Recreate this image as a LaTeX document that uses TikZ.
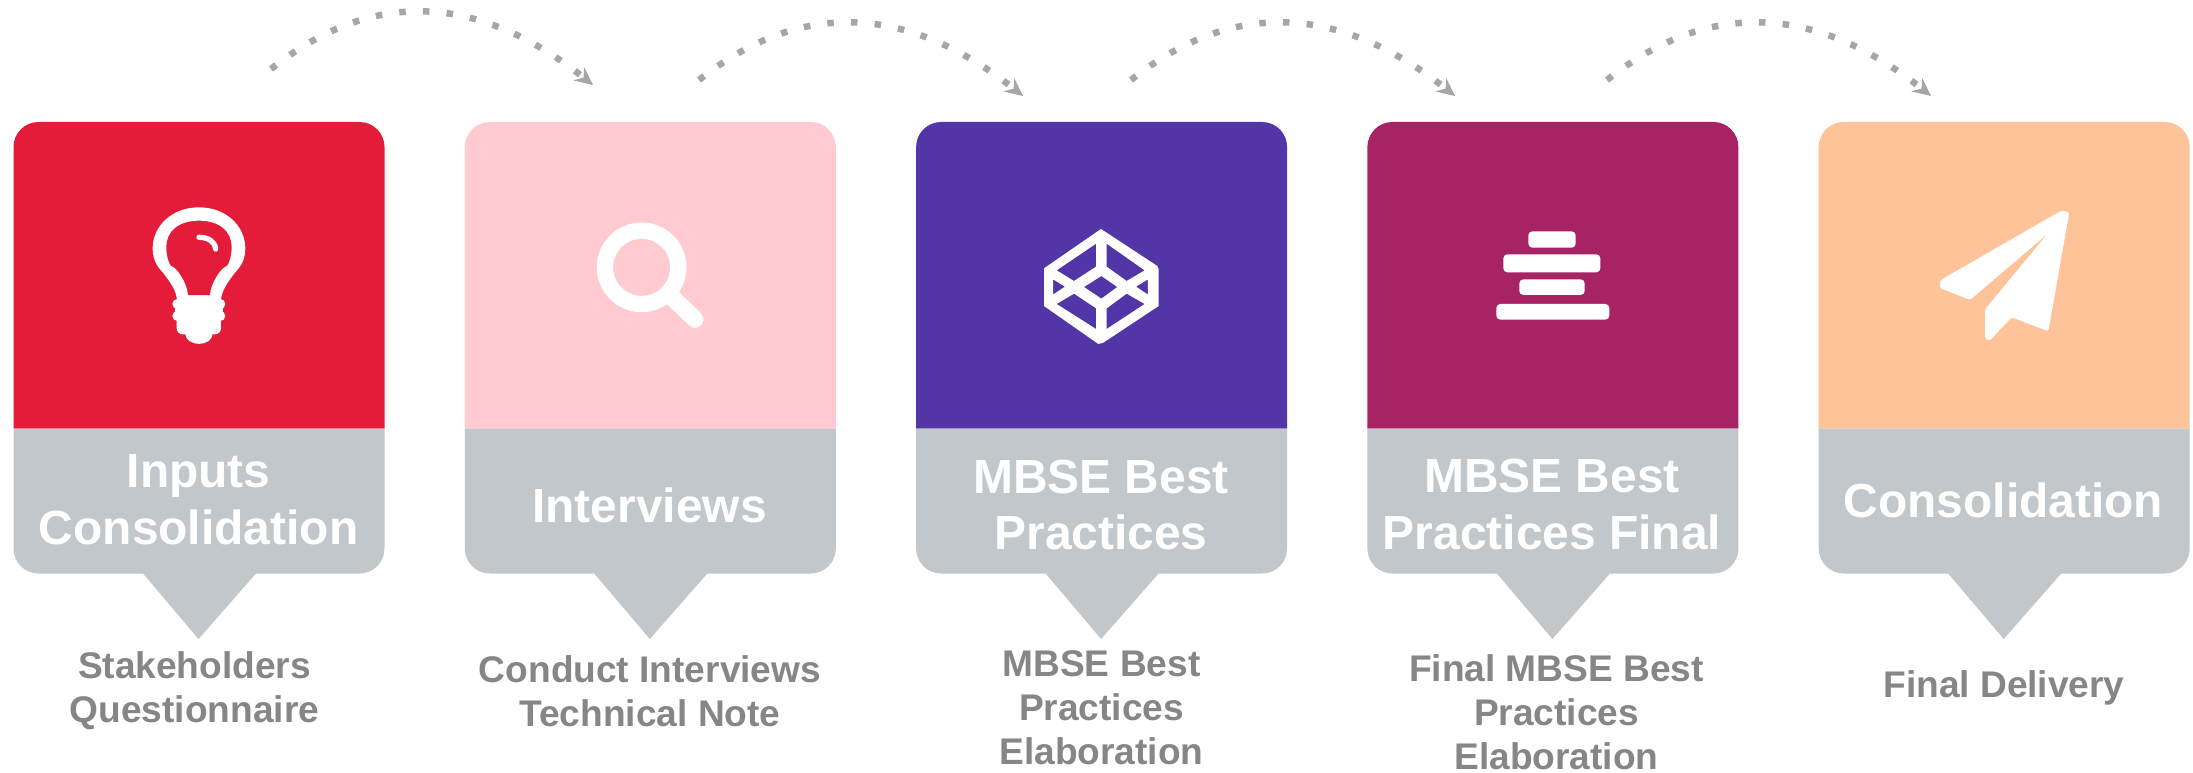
\documentclass[tikz,border=0pt]{standalone}
\usepackage{fontspec}
\setmainfont{Liberation Sans}
\usetikzlibrary{arrows.meta}
\definecolor{cRed}{HTML}{E51B3A}
\definecolor{cPink}{HTML}{FFCBD1}
\definecolor{cPurple}{HTML}{5235A6}
\definecolor{cMagenta}{HTML}{A72363}
\definecolor{cPeach}{HTML}{FEC398}
\definecolor{cGrey}{HTML}{C2C7CB}
\definecolor{cText}{HTML}{868686}
\definecolor{cDots}{HTML}{A6A6A6}
\tikzset{
  title/.style={text=white,font=\fontsize{47.9}{56.5}\selectfont\bfseries,align=center,inner sep=0pt},
  sub/.style={text=cText,font=\fontsize{37.1}{44}\selectfont\bfseries,align=center,inner sep=0pt},
  hop/.style={draw=cDots,line width=6.5pt,dash pattern=on 6.5pt off 17.2pt,
    -{Stealth[length=18pt,width=17pt,inset=6pt]}},
  icon/.style={fill=white,draw=none},
  zoomed/.style={x=0.3333pt,y=-0.3333pt}
}
\newcommand{\cardbox}[2]{%
  \fill[#2] (#1,428.5) [rounded corners=25pt] -- ++(0,-306.5) -- ++(371,0) [sharp corners] -- ++(0,306.5) -- cycle;
  \fill[cGrey] (#1,428.5) -- ++(371,0) [rounded corners=25pt] -- ++(0,145) [sharp corners]
    -- ++(-128.5,0) -- ++(-57.5,65.5) -- ++(-55.5,-65.5) [rounded corners=25pt] -- ++(-129.5,0) [sharp corners] -- cycle;
}
\begin{document}
\begin{tikzpicture}[x=1pt,y=-1pt]
\useasboundingbox (0,0) rectangle (2193,773);
\fill[white] (0,0) rectangle (2193,773);

\cardbox{13.5}{cRed}
\cardbox{464.8}{cPink}
\cardbox{916.1}{cPurple}
\cardbox{1367.4}{cMagenta}
\cardbox{1818.7}{cPeach}

% bulb
\begin{scope}[shift={(0,100)},zoomed]
  \fill[icon,even odd rule]
    (597,322) .. controls (680,322) and (736,380) .. (736,445)
    .. controls (736,480) and (722,500) .. (705,518)
    .. controls (685,545) and (665,570) .. (663,600)
    -- (531,600)
    .. controls (529,570) and (509,545) .. (489,518)
    .. controls (472,500) and (458,480) .. (458,445)
    .. controls (458,380) and (514,322) .. (597,322) -- cycle
    (597,362) .. controls (660,362) and (695,395) .. (695,440)
    .. controls (695,465) and (690,485) .. (682,497)
    .. controls (670,503) and (665,508) .. (660,515)
    .. controls (645,535) and (632,560) .. (630,586)
    -- (564,586)
    .. controls (562,560) and (549,535) .. (534,515)
    .. controls (529,508) and (524,503) .. (512,497)
    .. controls (504,485) and (499,465) .. (499,440)
    .. controls (499,395) and (534,362) .. (597,362) -- cycle;
  \fill[icon,rounded corners=6pt] (530,586) rectangle (663,703);
  \fill[icon] (525,600) rectangle (668,660);
  \fill[icon] (532,612) circle[radius=5pt] (532,648) circle[radius=5pt]
    (661,612) circle[radius=5pt] (661,648) circle[radius=5pt];
  \fill[icon] (597,703) ellipse[x radius=13.5pt,y radius=9.5pt];
  \draw[white,line width=5.3pt,line cap=round] (597,412) .. controls (625,412) and (645,425) .. (647,447);
\end{scope}

% magnifier
\begin{scope}[shift={(540,170)},zoomed]
  \draw[white,line width=16.3pt] (305,292) circle[radius=36.7pt];
  \draw[white,line width=17pt,line cap=round] (395,380) -- (465,448);
\end{scope}

% codepen
\begin{scope}[shift={(1000,200)},zoomed]
  \fill[icon,even odd rule]
    (303,87) -- (472,198) -- (476,207) -- (476,318) -- (310,428) -- (295,432) -- (132,318) -- (132,205) -- cycle
    (288,131) -- (288,200) -- (222,243) -- (170,211) -- cycle
    (320,131) -- (320,200) -- (380,243) -- (434,211) -- cycle
    (170,312) -- (222,281) -- (288,325) -- (288,387) -- cycle
    (320,325) -- (380,281) -- (434,312) -- (320,387) -- cycle
    (159,238) -- (195,260) -- (159,284) -- cycle
    (444,238) -- (408,260) -- (444,284) -- cycle
    (304,228) -- (352,261) -- (304,296) -- (252,261) -- cycle;
\end{scope}

% stack
\begin{scope}[shift={(1460,210)},zoomed]
  \fill[icon,rounded corners=4pt] (205,64) rectangle (347,113);
  \fill[icon,rounded corners=4pt] (130,133) rectangle (421,187);
  \fill[icon,rounded corners=4pt] (178,208) rectangle (374,255);
  \fill[icon,rounded corners=4pt] (109,282) rectangle (448,329);
\end{scope}

% paper plane
\begin{scope}[shift={(1900,190)},zoomed]
  \fill[icon,rounded corners=1.8pt]
    (484,62) -- (508,66) -- (445,424) -- (335,382) -- (268,453) -- (255,445) -- (255,358)
    -- (442,132) -- (210,330) -- (119,294) -- (122,270) -- cycle;
\end{scope}

% titles
\node[title] (t1) at (198.6,500) {Inputs\\Consolidation};
\node[title] (t2) at (649.5,505) {Interviews};
\node[title] (t3) at (1101,505) {MBSE Best\\Practices};
\node[title] (t4) at (1552,504.5) {MBSE Best\\Practices Final};
\node[title] (t5) at (2003.5,500) {Consolidation};

% captions
\node[sub] (s1) at (194.5,690.5) {Stakeholders\\Questionnaire};
\node[sub] (s2) at (650,691) {Conduct Interviews\\Technical Note};
\node[sub] (s3) at (1101.5,708) {MBSE Best\\Practices\\Elaboration};
\node[sub] (s4) at (1556.5,712.5) {Final MBSE Best\\Practices\\Elaboration};
\node[sub] (s5) at (2004,687.5) {Final Delivery};

% hops
\coordinate (a1) at (271,69);  \coordinate (b1) at (593,85);
\coordinate (a2) at (699,80);  \coordinate (b2) at (1023,96);
\coordinate (a3) at (1131,80); \coordinate (b3) at (1455,96);
\coordinate (a4) at (1607,80); \coordinate (b4) at (1931,96);
\draw[hop] (a1) .. controls +(108,-86) and +(-108,-86) .. (b1);
\draw[hop] (a2) .. controls +(108,-86) and +(-108,-86) .. (b2);
\draw[hop] (a3) .. controls +(108,-86) and +(-108,-86) .. (b3);
\draw[hop] (a4) .. controls +(108,-86) and +(-108,-86) .. (b4);
\end{tikzpicture}
\end{document}
